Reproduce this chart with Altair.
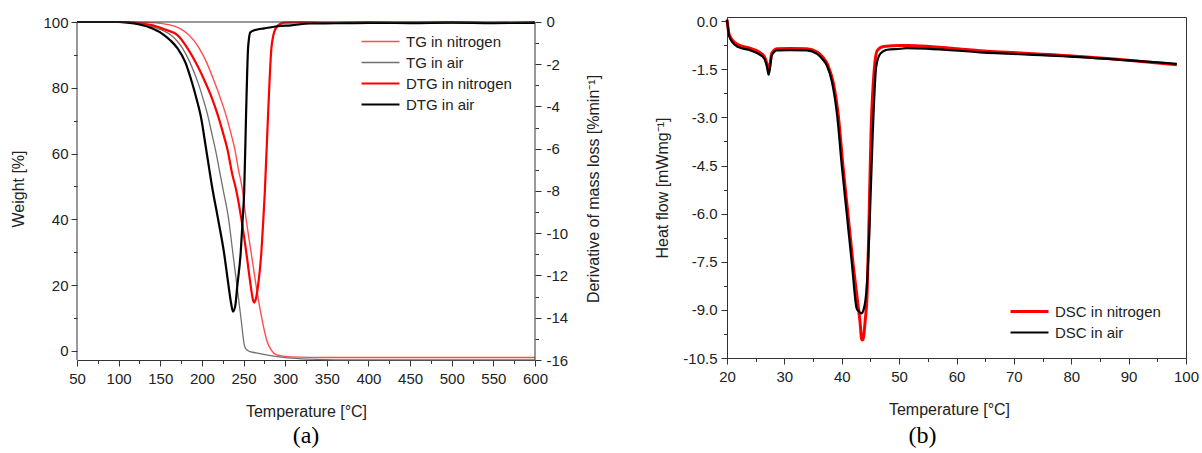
import altair as alt
import pandas as pd

# ---------------- Panel (a): TG / DTG ----------------
tg_n2_T = [50, 100, 120, 135, 150, 160, 172, 182, 190, 197, 206, 215, 222, 229, 235, 239.4, 244, 248, 253, 259, 265, 272, 278.5, 283, 287, 295, 307, 330, 400, 600]
tg_n2_w = [100, 100, 99.95, 99.85, 99.6, 99.2, 98.2, 96.6, 94.5, 91.9, 87.5, 81.8, 77, 71.6, 66, 61.5, 55, 50, 40.2, 30.1, 20.0, 9.8, 2.7, 0.4, -0.8, -1.5, -1.8, -1.95, -2.0, -2.0]

tg_air_T = [50, 100, 115, 130, 145, 155, 163, 170, 177, 186, 195, 201, 207, 212, 216, 221, 225.5, 232, 237, 242, 247, 251, 253, 256, 265, 279, 303, 330, 360, 600]
tg_air_w = [100, 100, 99.8, 99.3, 98.2, 97.2, 96.0, 94.3, 91.9, 87.5, 81.8, 77, 71.6, 66, 61.5, 55, 49, 40.2, 30.1, 20.0, 9.8, 1.7, 0.6, 0.0, -0.6, -1.3, -2.1, -2.5, -2.7, -2.7]

dtg_n2_T = [50, 100, 123, 140, 155, 171, 183, 195, 204, 212, 219.3, 225, 230.5, 237, 240, 242.5, 247.3, 253.3, 258.6, 261, 262.6, 264.5, 267.4, 271.4, 273.8, 275.6, 279.4, 283.4, 285.8, 288, 291.4, 299, 320, 350, 400, 450, 500, 550, 600]
dtg_n2_d = [0, 0, -0.05, -0.15, -0.35, -0.63, -1.26, -2.1, -2.85, -3.6, -4.43, -5.2, -6.0, -7.3, -7.75, -8.22, -9.31, -10.91, -12.49, -13.1, -13.28, -13.15, -12.49, -10.91, -9.31, -8.0, -4.43, -1.26, -0.63, -0.35, -0.16, -0.03, -0.02, -0.04, -0.02, -0.03, -0.02, -0.04, -0.02]

dtg_air_T = [50, 100, 111, 125, 140, 155, 163, 171, 180, 188, 194, 198.5, 205, 212, 219.3, 226.5, 232, 235, 237.3, 240, 242.5, 246.6, 249, 250.8, 253, 255.4, 256.5, 258, 263, 275, 291, 307, 330, 360, 400, 450, 500, 550, 600]
dtg_air_d = [0, 0, -0.03, -0.12, -0.3, -0.63, -0.9, -1.26, -1.9, -2.85, -3.7, -4.43, -6.0, -7.75, -9.31, -10.91, -12.49, -13.3, -13.71, -13.45, -12.49, -10.91, -9.31, -8.0, -4.43, -1.26, -0.79, -0.5, -0.39, -0.3, -0.2, -0.16, -0.07, -0.06, -0.04, -0.05, -0.03, -0.05, -0.04]

# ---------------- Panel (b): DSC ----------------
dsc_n2_T = [20.0, 20.1, 20.35, 20.9, 22.0, 24.1, 25.5, 26.5, 27.0, 27.25, 27.5, 27.8, 28.7, 31.0, 33.9, 35.7, 36.7, 37.6, 38.5, 39.4, 40.2, 41.1, 42.0, 42.8, 43.2, 43.45, 43.6, 43.8, 44.1, 44.4, 44.7, 45.1, 45.7, 46.2, 47.3, 50.2, 51.3, 64.1, 81.5, 88.0, 98.4]
dsc_n2_h = [0.05, -0.1, -0.4, -0.58, -0.74, -0.85, -0.95, -1.1, -1.35, -1.55, -1.35, -1.0, -0.86, -0.85, -0.86, -0.96, -1.12, -1.38, -1.90, -2.94, -4.49, -6.05, -7.61, -8.8, -9.4, -9.9, -9.94, -9.85, -9.3, -8.6, -6.62, -3.5, -1.43, -0.91, -0.79, -0.76, -0.76, -0.92, -1.10, -1.19, -1.36]

dsc_air_T = [20.0, 20.1, 20.35, 20.9, 22.0, 24.1, 25.5, 26.5, 27.0, 27.25, 27.5, 27.8, 28.7, 31.0, 33.9, 35.7, 36.7, 37.4, 38.3, 39.2, 40.0, 40.9, 41.8, 42.6, 43.0, 43.4, 43.8, 44.4, 44.8, 45.4, 46.0, 46.7, 47.9, 50.2, 51.3, 64.1, 81.5, 98.4]
dsc_air_h = [0.05, -0.1, -0.45, -0.65, -0.81, -0.91, -1.02, -1.17, -1.45, -1.67, -1.45, -1.07, -0.91, -0.90, -0.91, -1.02, -1.2, -1.38, -1.90, -2.94, -4.49, -6.05, -7.61, -8.95, -9.05, -9.11, -9.0, -8.18, -6.62, -3.5, -1.43, -1.02, -0.89, -0.86, -0.84, -0.97, -1.12, -1.33]

left_series = ["TG in nitrogen", "TG in air", "DTG in nitrogen", "DTG in air"]
left_colors = ["#ff4d4d", "#707070", "#ff0000", "#000000"]
left_widths = [1.4, 1.3, 2.2, 2.2]
right_series = ["DSC in nitrogen", "DSC in air"]
right_colors = ["#ff0000", "#000000"]
right_widths = [3.0, 2.2]

# axis ranges of panel (a): frame spans T 50..600, weight -2.75..100, DTG -16..0
T_RANGE = [50, 600]
W_RANGE = [-2.75, 100]
D_RANGE = [-16, 0]
W_TOP = 101.52   # plot area reaches a little above the frame
D_TOP = 0.2365

FONT = "Liberation Sans"
AX = "#333333"


def frame(names, xs, ys, col):
    rows = []
    for n, xx, yy in zip(names, xs, ys):
        for a, b in zip(xx, yy):
            rows.append({"series": n, "T": a, col: b})
    return pd.DataFrame(rows)


tg_df = frame(left_series[:2], [tg_n2_T, tg_air_T], [tg_n2_w, tg_air_w], "w")
dtg_df = frame(left_series[2:], [dtg_n2_T, dtg_air_T], [dtg_n2_d, dtg_air_d], "d")
dsc_n2_df = frame(right_series[:1], [dsc_n2_T], [dsc_n2_h], "h")
dsc_air_df = frame(right_series[1:], [dsc_air_T], [dsc_air_h], "h")
box_df = pd.DataFrame({
    "T": [T_RANGE[0], T_RANGE[1], T_RANGE[0]],
    "T2": [T_RANGE[0], T_RANGE[1], T_RANGE[1]],
    "y": [W_RANGE[0], W_RANGE[0], W_RANGE[1]],
    "y2": [W_RANGE[1], W_RANGE[1], W_RANGE[1]],
})


def tick(test):
    return {"condition": {"test": test, "value": 6}, "value": 3.5}


common_axis = dict(grid=False, domainColor=AX, tickColor=AX, labelColor="#222222",
                   titleColor="#222222", labelFont=FONT, titleFont=FONT,
                   labelFontSize=15, titleFontSize=16, titleFontWeight="normal",
                   labelOverlap=False, labelFlush=False)

SYM = "M-4,0H4"
SYM_SIZE = 90
LAB_OFF = 18


def leg(x, y):
    return alt.Legend(title=None, orient="none", legendX=x, legendY=y)


xa = alt.X("T:Q", scale=alt.Scale(domain=T_RANGE, nice=False, zero=False),
           axis=alt.Axis(values=list(range(50, 601, 25)),
                         labelExpr="datum.value % 50 == 0 ? '' + datum.value : ''",
                         tickSize=tick("datum.value % 50 == 0"),
                         labelPadding=5, titlePadding=17,
                         title="Temperature [°C]", **common_axis))

lcolor = alt.Color("series:N", scale=alt.Scale(domain=left_series, range=left_colors),
                   legend=leg(296, 17))
lwidth = alt.StrokeWidth("series:N", scale=alt.Scale(type="ordinal", domain=left_series, range=left_widths),
                         legend=leg(296, 17))

tg = alt.Chart(tg_df).mark_line(interpolate="monotone").encode(
    x=xa,
    y=alt.Y("w:Q", scale=alt.Scale(domain=[W_RANGE[0], W_TOP], nice=False, zero=False),
            axis=alt.Axis(values=list(range(0, 101, 10)), domain=False,
                          labelExpr="datum.value % 20 == 0 ? '' + datum.value : ''",
                          tickSize=tick("datum.value % 20 == 0"),
                          labelPadding=3, titlePadding=16,
                          title="Weight [%]", **common_axis)),
    color=lcolor, strokeWidth=lwidth,
    order=alt.Order("T:Q"),
)

dtg = alt.Chart(dtg_df).mark_line(interpolate="monotone").encode(
    x=xa,
    y=alt.Y("d:Q", scale=alt.Scale(domain=[D_RANGE[0], D_TOP], nice=False, zero=False),
            axis=alt.Axis(orient="right", values=list(range(-16, 1, 1)), domain=False,
                          labelExpr="datum.value % 2 == 0 ? '' + datum.value : ''",
                          tickSize=tick("datum.value % 2 == 0"),
                          labelPadding=5, titlePadding=34, titleAngle=270,
                          title="Derivative of mass loss [%min⁻¹]", **common_axis)),
    color=lcolor, strokeWidth=lwidth,
    order=alt.Order("T:Q"),
)

box = alt.Chart(box_df).mark_rule(color=AX, strokeWidth=1).encode(
    x=xa, x2="T2:Q",
    y=alt.Y("y:Q", scale=alt.Scale(domain=[W_RANGE[0], W_TOP], nice=False, zero=False), axis=None),
    y2="y2:Q",
)

left = alt.layer(tg, dtg, box).resolve_scale(y="independent").properties(
    width=458, height=343,
    view=alt.ViewBackground(stroke="transparent"),
    title=alt.TitleParams("(a)", orient="bottom", font="Liberation Serif", fontSize=24,
                          fontWeight="normal", color="#000000", offset=5),
)

xb = alt.X("T:Q", scale=alt.Scale(domain=[20, 100], nice=False, zero=False),
           axis=alt.Axis(values=list(range(20, 101, 5)),
                         labelExpr="datum.value % 10 == 0 ? '' + datum.value : ''",
                         tickSize=tick("datum.value % 10 == 0"),
                         labelPadding=5, titlePadding=17, titleX=222,
                         title="Temperature [°C]", **common_axis))
yb = alt.Y("h:Q", scale=alt.Scale(domain=[-10.5, 0.13], nice=False, zero=False),
           axis=alt.Axis(values=[v * 0.75 for v in range(-14, 1)],
                         labelExpr="datum.value % 1.5 == 0 ? (datum.value % 1 == 0 ? datum.value + '.0' : '' + datum.value) : ''",
                         tickSize=tick("datum.value % 1.5 == 0"),
                         labelPadding=4, titlePadding=12,
                         title="Heat flow [mWmg⁻¹]", **common_axis))
rcolor = alt.Color("series:N", scale=alt.Scale(domain=right_series, range=right_colors),
                   legend=leg(295, 287))
rwidth = alt.StrokeWidth("series:N", scale=alt.Scale(type="ordinal", domain=right_series, range=right_widths),
                         legend=leg(295, 287))

dsc_n2 = alt.Chart(dsc_n2_df).mark_line(interpolate="monotone").encode(
    x=xb, y=yb, color=rcolor, strokeWidth=rwidth, order=alt.Order("T:Q"))
dsc_air = alt.Chart(dsc_air_df).mark_line(interpolate="monotone").encode(
    x=xb, y=yb, color=rcolor, strokeWidth=rwidth, order=alt.Order("T:Q"))

right = alt.layer(dsc_n2, dsc_air).properties(
    width=459, height=341,
    title=alt.TitleParams("(b)", orient="bottom", font="Liberation Serif", fontSize=24,
                          fontWeight="normal", color="#000000", offset=7, dx=-34),
)

chart = alt.hconcat(left, right, spacing=51).resolve_scale(
    color="independent", strokeWidth="independent"
).configure_view(stroke=AX, strokeWidth=1).configure_legend(
    labelFont=FONT, labelFontSize=15, labelColor="#222222", symbolType=SYM,
    symbolSize=SYM_SIZE, labelOffset=LAB_OFF, rowPadding=5, padding=0,
).properties(
    padding={"left": 10, "top": 13, "right": 0, "bottom": 0},
    background="white",
)

chart.save("out.html", embed_options={"renderer": "svg", "actions": False})
